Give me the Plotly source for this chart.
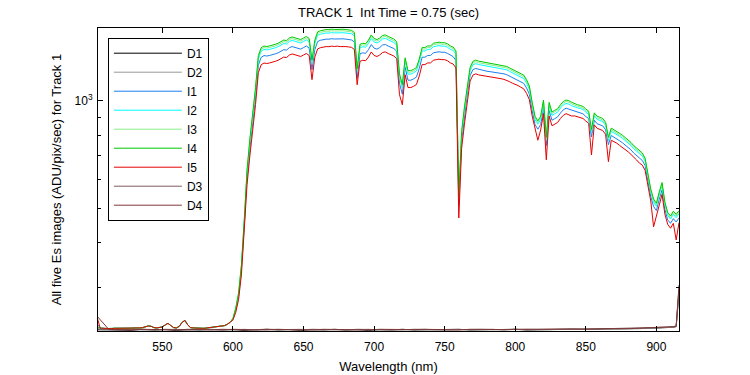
import math
import plotly.graph_objects as go

# ---------------- data ----------------
wavelength = list(range(504, 917, 2))  # nm, 207 samples

I4 = [231, 230, 230, 229.5, 230, 229.5, 230, 230, 229.5, 230,
      230, 229.5, 230, 230.5, 230, 230.5, 231, 232, 233.5, 233,
      231, 230.5, 231, 232, 235, 237.5, 234, 231, 230.5, 233,
      239, 242, 235, 231, 230.5, 230, 230, 230, 230, 230.5,
      231, 231.5, 232, 232, 233, 234, 236, 239, 245, 262,
      289, 346, 463, 640, 782, 908, 1088, 1338, 1409, 1424,
      1420, 1425, 1430, 1440, 1450, 1465, 1480, 1475, 1500, 1510,
      1500, 1490, 1485, 1500, 1515, 1495, 1300, 1480, 1560, 1572,
      1580, 1584, 1583, 1588, 1585, 1588, 1584, 1587, 1584, 1580,
      1576, 1555, 1230, 1440, 1450, 1445, 1480, 1530, 1495, 1485,
      1500, 1525, 1530, 1515, 1505, 1490, 1465, 1190, 1110, 1320,
      1215, 1215, 1225, 1240, 1310, 1410, 1410, 1425, 1425, 1450,
      1455, 1460, 1455, 1455, 1445, 1425, 1415, 1380, 540, 820,
      960, 1100, 1240, 1290, 1300, 1292, 1288, 1280, 1276, 1273,
      1270, 1268, 1264, 1260, 1255, 1248, 1236, 1224, 1218, 1205,
      1192, 1180, 1146, 1100, 990, 905, 878, 905, 1005, 790,
      990, 930, 940, 950, 975, 995, 1005, 1000, 990, 980,
      975, 970, 964, 948, 935, 830, 925, 905, 900, 892,
      870, 790, 838, 830, 822, 810, 800, 788, 777, 764,
      748, 737, 722, 714, 690, 615, 565, 530, 516, 555,
      590, 520, 486, 475, 490, 480, 492]

I3 = [231, 230, 230, 229.5, 230, 229.5, 230, 230, 229.5, 230,
      230, 229.5, 230, 230.5, 230, 230.5, 231, 232, 233.5, 233,
      231, 230.5, 231, 232, 235, 237.5, 234, 231, 230.5, 233,
      239, 242, 235, 231, 230.5, 230, 230, 230, 230, 230.5,
      231, 231.5, 232, 232, 233, 234, 236, 239, 245, 262,
      288, 344, 458, 634, 774, 899, 1077, 1325, 1395, 1410,
      1406, 1411, 1416, 1426, 1436, 1450, 1465, 1460, 1485, 1495,
      1485, 1475, 1470, 1485, 1500, 1480, 1287, 1465, 1544, 1556,
      1564, 1568, 1567, 1572, 1569, 1572, 1568, 1571, 1568, 1564,
      1560, 1539, 1218, 1426, 1436, 1431, 1465, 1515, 1480, 1470,
      1485, 1510, 1515, 1500, 1490, 1475, 1450, 1178, 1099, 1307,
      1203, 1203, 1213, 1228, 1297, 1396, 1396, 1411, 1411, 1436,
      1440, 1445, 1440, 1440, 1431, 1411, 1401, 1366, 535, 812,
      950, 1089, 1228, 1277, 1287, 1279, 1275, 1267, 1263, 1260,
      1257, 1255, 1251, 1247, 1242, 1236, 1224, 1212, 1206, 1193,
      1180, 1168, 1135, 1089, 980, 896, 869, 896, 995, 782,
      980, 921, 931, 941, 965, 985, 995, 990, 980, 970,
      965, 960, 954, 939, 926, 822, 916, 896, 891, 883,
      861, 782, 830, 822, 814, 802, 792, 780, 769, 756,
      741, 730, 715, 707, 683, 609, 559, 525, 511, 549,
      584, 515, 481, 470, 485, 475, 487]

I2 = [231, 230, 230, 229.5, 230, 229.5, 230, 230, 229.5, 230,
      230, 229.5, 230, 230.5, 230, 230.5, 231, 232, 233.5, 233,
      231, 230.5, 231, 232, 235, 237.5, 234, 231, 230.5, 233,
      239, 242, 235, 231, 230.5, 230, 230, 230, 230, 230.5,
      231, 231.5, 232, 232, 233, 234, 236, 239, 245, 261,
      286, 341, 454, 627, 765, 888, 1064, 1309, 1378, 1393,
      1389, 1394, 1399, 1408, 1418, 1433, 1447, 1443, 1467, 1477,
      1467, 1457, 1452, 1467, 1482, 1462, 1271, 1447, 1526, 1537,
      1545, 1549, 1548, 1553, 1550, 1553, 1549, 1552, 1549, 1545,
      1541, 1521, 1203, 1408, 1418, 1413, 1447, 1496, 1462, 1452,
      1467, 1491, 1496, 1482, 1472, 1457, 1433, 1164, 1086, 1291,
      1188, 1188, 1198, 1213, 1281, 1379, 1379, 1394, 1394, 1418,
      1423, 1428, 1423, 1423, 1413, 1394, 1384, 1350, 528, 802,
      939, 1076, 1213, 1262, 1271, 1264, 1260, 1252, 1248, 1245,
      1242, 1240, 1236, 1232, 1227, 1221, 1209, 1197, 1191, 1178,
      1166, 1154, 1121, 1076, 968, 885, 859, 885, 983, 773,
      968, 910, 919, 929, 954, 973, 983, 978, 968, 960,
      956, 951, 945, 929, 916, 813, 907, 887, 882, 874,
      853, 774, 821, 813, 806, 794, 784, 772, 761, 749,
      733, 722, 708, 700, 676, 603, 554, 519, 506, 544,
      578, 510, 476, 466, 480, 470, 482]

I1 = [236, 230, 230, 229.5, 230, 229.5, 230, 230, 229.5, 230,
      230, 229.5, 230, 230.5, 230, 230.5, 231, 232, 233.5, 233,
      231, 230.5, 231, 232, 235, 237.5, 234, 231, 230.5, 233,
      239, 242, 235, 231, 230.5, 230, 230, 230, 230, 230.5,
      231, 231.5, 232, 232, 233, 234, 236, 239, 244, 259,
      283, 336, 444, 608, 735, 854, 1023, 1258, 1324, 1339,
      1335, 1340, 1344, 1354, 1363, 1377, 1391, 1387, 1410, 1419,
      1410, 1401, 1396, 1410, 1424, 1405, 1222, 1391, 1466, 1478,
      1485, 1489, 1488, 1493, 1490, 1493, 1489, 1492, 1489, 1485,
      1481, 1462, 1156, 1354, 1363, 1358, 1391, 1438, 1405, 1396,
      1410, 1434, 1438, 1424, 1415, 1401, 1377, 1119, 1043, 1241,
      1142, 1142, 1152, 1166, 1231, 1325, 1325, 1340, 1340, 1363,
      1368, 1372, 1368, 1368, 1358, 1340, 1330, 1297, 508, 771,
      902, 1043, 1176, 1223, 1232, 1225, 1221, 1213, 1210, 1207,
      1204, 1202, 1198, 1194, 1190, 1183, 1172, 1160, 1155, 1142,
      1130, 1119, 1086, 1043, 939, 858, 832, 858, 953, 749,
      939, 882, 891, 901, 924, 943, 953, 948, 939, 934,
      929, 924, 919, 903, 891, 791, 882, 862, 858, 850,
      829, 753, 799, 791, 783, 772, 762, 751, 740, 728,
      713, 702, 688, 680, 658, 586, 538, 505, 492, 529,
      562, 496, 463, 453, 467, 457, 469]

I5 = [245, 230, 230, 229.5, 230, 229.5, 230, 230, 229.5, 230,
      230, 229.5, 230, 230.5, 230, 230.5, 231, 232, 233.5, 233,
      231, 230.5, 231, 232, 235, 237.5, 234, 231, 230.5, 233,
      239, 242, 235, 231, 230.5, 230, 230, 230, 230, 230.5,
      231, 231.5, 232, 232, 233, 234, 236, 239, 242.5, 255,
      277, 325, 426, 582, 701, 814, 975, 1199, 1262, 1276,
      1272, 1277, 1281, 1290, 1299, 1313, 1326, 1322, 1344, 1353,
      1344, 1335, 1331, 1344, 1357, 1340, 1146, 1326, 1398, 1409,
      1416, 1419, 1418, 1423, 1420, 1423, 1419, 1422, 1419, 1416,
      1412, 1393, 1109, 1290, 1299, 1295, 1326, 1371, 1340, 1331,
      1344, 1366, 1371, 1357, 1348, 1335, 1313, 1040, 974, 1183,
      1089, 1089, 1098, 1111, 1174, 1263, 1263, 1277, 1277, 1299,
      1304, 1308, 1304, 1304, 1295, 1277, 1268, 1236, 469, 735,
      860, 1007, 1135, 1180, 1190, 1182, 1179, 1171, 1168, 1165,
      1162, 1160, 1157, 1153, 1148, 1142, 1131, 1120, 1114, 1103,
      1091, 1080, 1049, 1007, 906, 828, 775, 828, 920, 683,
      906, 851, 860, 869, 892, 910, 920, 915, 906, 907,
      902, 897, 892, 877, 865, 705, 856, 837, 833, 825,
      805, 675, 775, 768, 760, 749, 740, 729, 719, 707,
      692, 682, 668, 660, 638, 569, 523, 443, 477, 513,
      546, 481, 450, 439, 453, 407, 455]

dark_wavelength = list(range(504, 913, 8)) + [914, 916]  # 54 samples

D1 = [228, 227.5, 228, 227, 228.5, 227.5, 228, 227, 228, 227.5,
      228.5, 227.5, 228, 227, 228, 228.5, 227.5, 228, 227, 228,
      227.5, 228.5, 227.5, 228, 227, 228, 227.5, 228.5, 227.5, 228,
      227.5, 228, 228.5, 227.5, 228, 227.5, 228, 228.5, 227.5, 228,
      228.5, 228, 228.5, 228.5, 228.5, 229, 229, 229, 229.5, 230,
      230.5, 231.5, 232.5, 292]
D2 = [227.5, 228, 227.5, 228, 227.5, 228, 227.5, 228.5, 227.5, 228,
      227.5, 228, 227.5, 228.5, 227.5, 228, 227.5, 228, 228.5, 227.5,
      228, 227.5, 228, 227.5, 228.5, 227.5, 228, 227.5, 228, 228.5,
      227.5, 228, 227.5, 228, 228.5, 228, 227.5, 228, 228.5, 228,
      228, 228.5, 228, 228.5, 229, 228.5, 229, 229.5, 229.5, 230,
      231, 231.5, 233, 288]
D3 = [229, 228, 227.5, 228.5, 228, 227.5, 228.5, 228, 227.5, 228.5,
      228, 227.5, 228.5, 228, 228.5, 227.5, 228.5, 228, 227.5, 228.5,
      228, 228.5, 227.5, 228.5, 228, 228.5, 228, 227.5, 228.5, 228,
      228.5, 227.5, 228, 228.5, 228, 228.5, 227.5, 228.5, 228, 228.5,
      228, 228.5, 229, 228.5, 229, 229, 229.5, 229.5, 230, 230.5,
      231, 232, 233, 298]
D4 = [248, 228.5, 228, 227.5, 228.5, 228, 228.5, 227.5, 228.5, 228,
      227.5, 228.5, 228, 228.5, 227.5, 228.5, 228, 228.5, 228, 227.5,
      228.5, 228, 228.5, 228, 227.5, 228.5, 228, 228.5, 228, 228.5,
      228, 228.5, 227.5, 228.5, 228, 228.5, 228, 228.5, 228.5, 228,
      228.5, 228, 228.5, 229, 229, 229.5, 229, 229.5, 230, 230.5,
      231.5, 232.5, 233.5, 304]

for s in (I1, I2, I3, I4, I5):
    assert len(s) == len(wavelength), len(s)
for s in (D1, D2, D3, D4):
    assert len(s) == len(dark_wavelength), len(s)

y_minor_ticks = [300, 400, 500, 600, 700, 800, 900]
x_ticks = [550, 600, 650, 700, 750, 800, 850, 900]

# ---------------- figure ----------------
series = [
    ("D1", dark_wavelength, D1, "#000000"),
    ("D2", dark_wavelength, D2, "#999999"),
    ("I1", wavelength, I1, "#1a7fef"),
    ("I2", wavelength, I2, "#00ffff"),
    ("I3", wavelength, I3, "#88ee88"),
    ("I4", wavelength, I4, "#00c800"),
    ("I5", wavelength, I5, "#e60000"),
    ("D3", dark_wavelength, D3, "#805a5a"),
    ("D4", dark_wavelength, D4, "#803838"),
]

fig = go.Figure()
for name, xs, ys, col in series:
    fig.add_trace(go.Scatter(x=xs, y=ys, mode="lines", name=name,
                             line=dict(color=col, width=1)))

FONT = "Arial, Liberation Sans, Helvetica, sans-serif"

fig.update_layout(
    width=750, height=375,
    margin=dict(l=98, r=71, t=28, b=44, autoexpand=False),
    paper_bgcolor="white", plot_bgcolor="white",
    font=dict(family=FONT, size=12, color="black"),
    title=dict(text="TRACK 1  Int Time = 0.75 (sec)", x=0.518, xanchor="center",
               y=1 - 12 / 375, yanchor="middle", yref="container",
               font=dict(size=13, family=FONT, color="black")),
    legend=dict(x=0.017, y=0.968, xanchor="left", yanchor="top",
                bordercolor="black", borderwidth=1, bgcolor="white",
                font=dict(size=12, family=FONT, color="black"),
                itemwidth=68, tracegroupgap=0),
    showlegend=True,
)

fig.update_xaxes(
    range=[504.4, 916.0], tickvals=x_ticks,
    ticks="inside", ticklen=5, tickcolor="black", tickwidth=1,
    showline=True, linecolor="black", linewidth=1, mirror="ticks",
    showgrid=False, zeroline=False, automargin=False,
    tickfont=dict(size=12, family=FONT), ticklabelstandoff=5,
    title=dict(text="Wavelength (nm)", font=dict(size=13, family=FONT), standoff=8),
)

fig.update_yaxes(
    type="log", range=[math.log10(226), math.log10(1600)],
    tickvals=[1000], ticktext=["10<sup>3</sup>"],
    ticks="inside", ticklen=5, tickcolor="black", tickwidth=1,
    minor=dict(tickvals=y_minor_ticks, ticks="inside", ticklen=3,
               tickcolor="black", showgrid=False),
    showline=True, linecolor="black", linewidth=1, mirror="ticks",
    showgrid=False, zeroline=False, automargin=False,
    tickfont=dict(size=12, family=FONT), ticklabelstandoff=2,
    title=dict(text="All five Es images (ADU/pix/sec) for Track 1",
               font=dict(size=13, family=FONT), standoff=10),
)

fig.write_html("out.html", config={"displayModeBar": False},
               post_script="document.body.style.margin='0px';")
